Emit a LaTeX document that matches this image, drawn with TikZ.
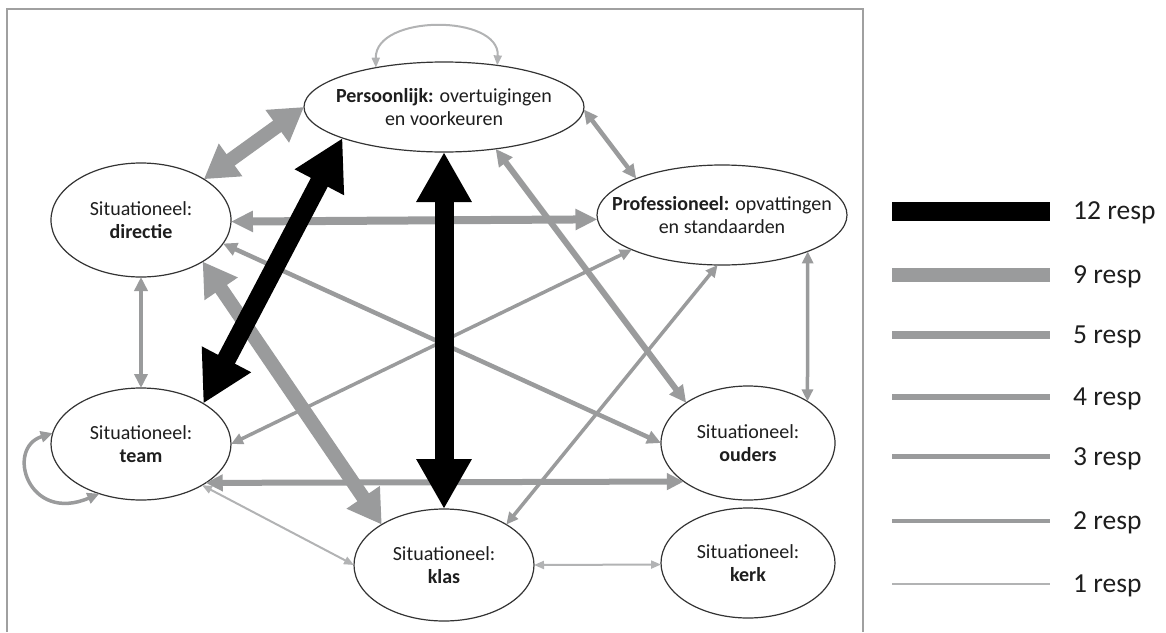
\documentclass[tikz,border=0pt]{standalone}
\usepackage{fontspec}
\setmainfont{Carlito}
\usetikzlibrary{arrows.meta,shapes.geometric}
\definecolor{eg}{HTML}{9A9B9C}
\definecolor{lg}{HTML}{B2B3B4}
\definecolor{fc}{HTML}{A0A0A0}
\definecolor{tc}{HTML}{1E1E1E}
\tikzset{
  ell/.style={ellipse, draw=black!80, line width=1.2pt, fill=white, inner sep=0pt, outer sep=0pt},
  etxt/.style={align=center, text=tc, font=\fontsize{20pt}{23pt}\selectfont, inner sep=0pt},
  legtxt/.style={anchor=base west, text=tc, font=\fontsize{27.5pt}{30pt}\selectfont, inner sep=0pt},
  r12/.style={draw=black, line width=19pt, arrows={Triangle[length=50pt,width=52pt]-Triangle[length=50pt,width=52pt]}},
  r9/.style={draw=eg, line width=14pt, arrows={Triangle[length=33pt,width=38pt]-Triangle[length=33pt,width=38pt]}},
  r5/.style={draw=eg, line width=8pt, arrows={Triangle[length=22pt,width=20pt]-Triangle[length=22pt,width=20pt]}},
  r4/.style={draw=eg, line width=6pt, arrows={Triangle[length=17pt,width=16pt]-Triangle[length=17pt,width=16pt]}},
  r3/.style={draw=eg, line width=4.5pt, arrows={Triangle[length=14pt,width=13pt]-Triangle[length=14pt,width=13pt]}},
  r2/.style={draw=eg, line width=3.5pt, arrows={Triangle[length=12pt,width=11pt]-Triangle[length=12pt,width=11pt]}},
  r1/.style={draw=lg, line width=2pt, arrows={Triangle[length=10pt,width=8pt]-Triangle[length=10pt,width=8pt]}},
}
\begin{document}
\begin{tikzpicture}[x=1pt,y=-1pt]
\useasboundingbox (0,0) rectangle (1166,632);
% frame
\draw[fc, line width=1.6pt] (7,632) -- (7,9) -- (863,9) -- (863,632);
% nodes
\node[ell, minimum width=280pt, minimum height=90pt] (P) at (444,107) {};
\node[ell, minimum width=180pt, minimum height=114pt] (D) at (141,220) {};
\node[ell, minimum width=180pt, minimum height=112pt] (T) at (141,444) {};
\node[ell, minimum width=180pt, minimum height=112pt] (K) at (444,565) {};
\node[ell, minimum width=250pt, minimum height=100pt] (Pr) at (722,215) {};
\node[ell, minimum width=174pt, minimum height=114pt] (O) at (748,443) {};
\node[ell, minimum width=174pt, minimum height=110pt] (Ke) at (748,563) {};
\node[etxt] (Ptxt) at (P.center) {\textbf{Persoonlijk:} overtuigingen\\en voorkeuren};
\node[etxt] (Prtxt) at (Pr.center) {\textbf{Professioneel:} opvattingen\\en standaarden};
\node[etxt] (Dtxt) at (D.center) {Situationeel:\\\textbf{directie}};
\node[etxt] (Ttxt) at (T.center) {Situationeel:\\\textbf{team}};
\node[etxt] (Ktxt) at (K.center) {Situationeel:\\\textbf{klas}};
\node[etxt] (Otxt) at (O.center) {Situationeel:\\\textbf{ouders}};
\node[etxt] (Ketxt) at (Ke.center) {Situationeel:\\\textbf{kerk}};
% gray connectors
\draw[r1] (P.150) .. controls (375,14) and (500,14) .. (P.38);
\draw[r1] (T.-34) -- (K.180);
\draw[r1] (K.0) -- (Ke.181);
\draw[r2] (T.0) -- (Pr.201);
\draw[r2] (K.33) -- (Pr.265);
\draw[r2] (Pr.-23.3) -- (O.35.6);
\draw[r3] (D.south) -- (T.north);
\draw[r3] (D.-16) -- (O.180);
\draw[r3] (P.-1) -- (Pr.157.6);
\draw[r2] (T.173) .. controls (5,448) and (28,524) .. (T.230);
\draw[r4] (T.-31) -- (O.211.6);
\draw[r4] (P.-39) -- (O.147);
\draw[r5] (D.-1) -- (Pr.182);
\draw[r9] (P.180) -- (D.33);
\draw[r9] (D.-34) -- (K.147);
% black connectors
\draw[r12] (P.197) -- (T.33);
\draw[r12] (P.south) -- (K.north);
% legend
\draw[black, line width=19pt] (892,211) -- (1050,211);
\draw[eg, line width=14pt] (892,275) -- (1050,275);
\draw[eg, line width=8pt] (892,334.5) -- (1050,334.5);
\draw[eg, line width=6pt] (892,397) -- (1050,397);
\draw[eg, line width=5pt] (892,456.5) -- (1050,456.5);
\draw[eg, line width=4pt] (892,521) -- (1050,521);
\draw[lg, line width=2pt] (892,584) -- (1050,584);
\node[legtxt] (l12) at (1073,219.5) {12 resp};
\node[legtxt] (l9) at (1073,283.5) {9 resp};
\node[legtxt] (l5) at (1073,343) {5 resp};
\node[legtxt] (l4) at (1073,405.5) {4 resp};
\node[legtxt] (l3) at (1073,465) {3 resp};
\node[legtxt] (l2) at (1073,529.5) {2 resp};
\node[legtxt] (l1) at (1073,592.5) {1 resp};
\end{tikzpicture}
\end{document}
